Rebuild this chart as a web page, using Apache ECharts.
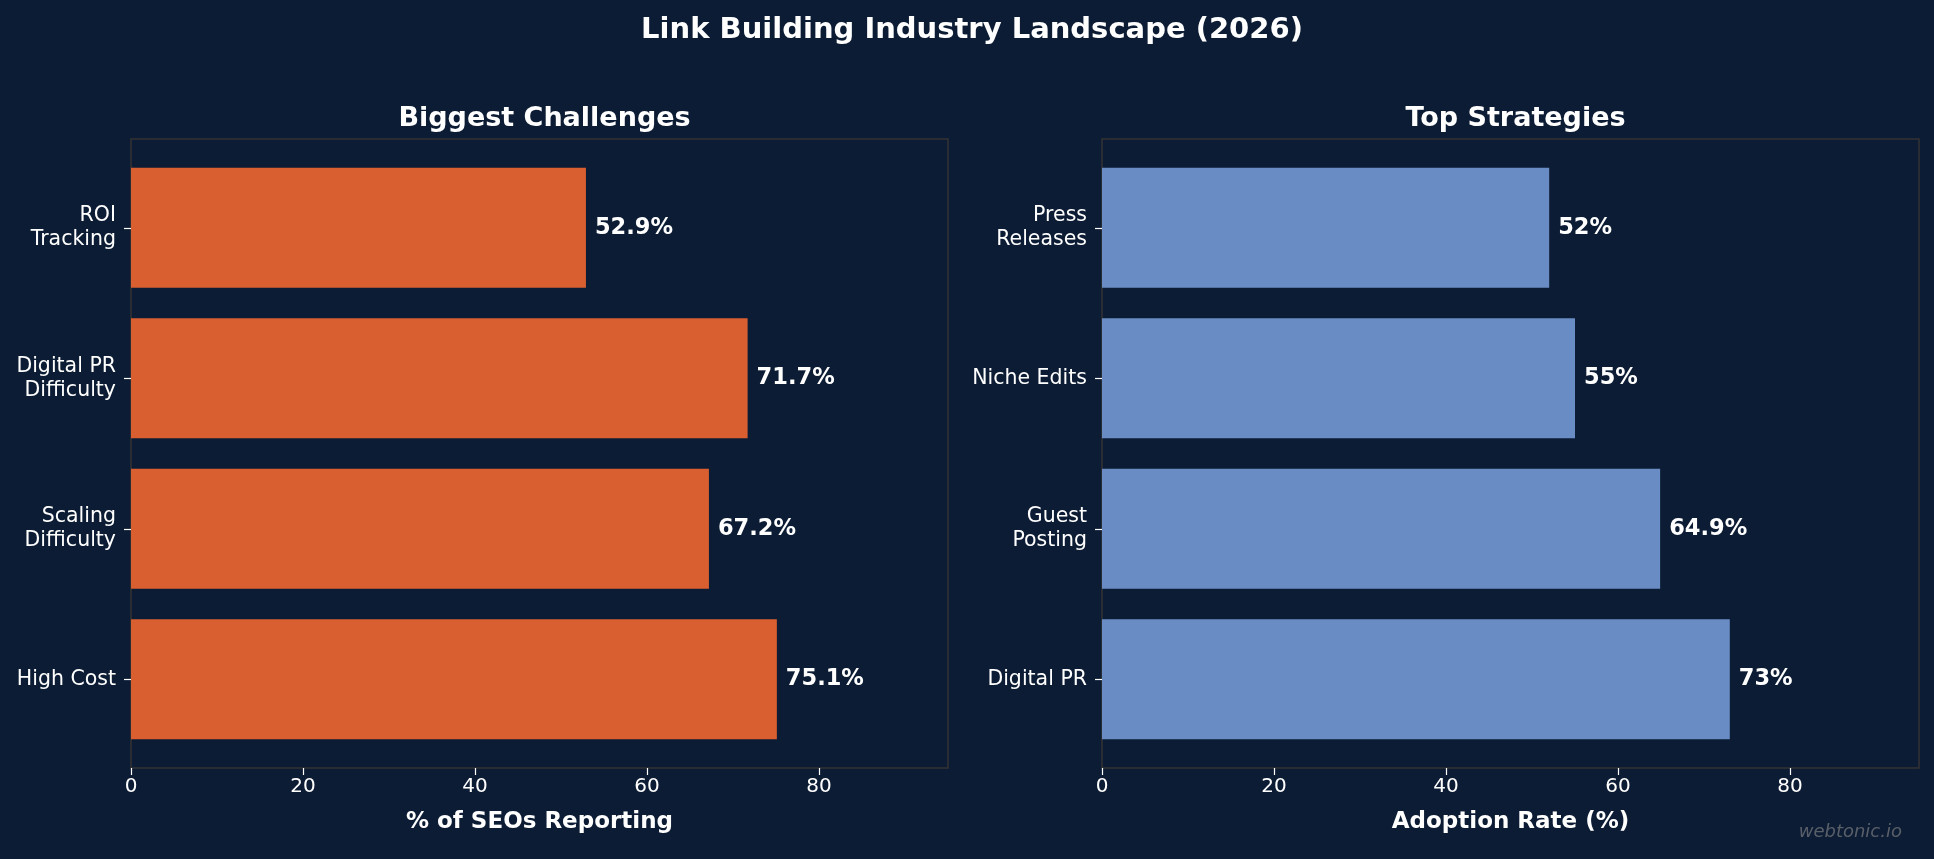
<!DOCTYPE html>
<html>
<head>
<meta charset="utf-8">
<script src="https://cdn.jsdelivr.net/npm/echarts@6/dist/echarts.min.js"></script>
<style>
  html, body { margin: 0; padding: 0; background: #0c1c34; }
  #chart { width: 1934px; height: 859px; }
</style>
</head>
<body>
<div id="chart"></div>
<script>
// data, bottom to top like the original barh
const challengeNames = ['High Cost', 'Scaling\nDifficulty', 'Digital PR\nDifficulty', 'ROI\nTracking']
const challengeValues = [75.1, 67.2, 71.7, 52.9]
const strategyNames = ['Digital PR', 'Guest\nPosting', 'Niche Edits', 'Press\nReleases']
const strategyValues = [73, 64.9, 55, 52]
const xMax = 95      // axis limit
const xTickMax = 80  // last labelled tick
const xStep = 20

const FONT = 'DejaVu Sans'
const BG = '#0c1c34'
const ORANGE = '#d95f30'
const BLUE = '#6a8cc4'

// panel boxes; each panel = border grid + tick grid + bar grid
const panels = [
  { left: 131, width: 817, top: 139, height: 629 },
  { left: 1102, width: 817, top: 139, height: 629 }
]
const pxPerUnit = panels[0].width / xMax

function borderGrid(p) {
  return { show: true, borderColor: '#333333', borderWidth: 1.5, backgroundColor: 'transparent',
    left: p.left, width: p.width, top: p.top, height: p.height }
}
function tickGrid(p) {
  return { left: p.left, width: xTickMax * pxPerUnit, top: p.top, height: p.height }
}
function barGrid(p) {
  return { left: p.left, width: p.width, top: 152.5, height: 602 }
}

function hiddenValue(gridIndex, max) {
  return { type: 'value', gridIndex: gridIndex, min: 0, max: max, show: false, splitLine: { show: false } }
}

function tickX(gridIndex) {
  return {
    type: 'value', gridIndex: gridIndex, min: 0, max: xTickMax, interval: xStep,
    axisLine: { show: false },
    axisTick: { show: true, length: 7, lineStyle: { color: '#fff', width: 1.2 } },
    axisLabel: { color: '#fff', fontFamily: FONT, fontSize: 20, margin: 9 },
    splitLine: { show: false }
  }
}

function nameX(gridIndex, name) {
  return {
    type: 'value', gridIndex: gridIndex, min: 0, max: xMax,
    name: name, nameLocation: 'middle', nameGap: 43,
    nameTextStyle: { color: '#fff', fontFamily: FONT, fontWeight: 'bold', fontSize: 23 },
    axisLine: { show: false }, axisTick: { show: false }, axisLabel: { show: false },
    splitLine: { show: false }
  }
}

function catY(gridIndex, names) {
  return {
    type: 'category', gridIndex: gridIndex, data: names,
    axisLine: { show: false },
    axisTick: { show: true, alignWithLabel: true, length: 7, lineStyle: { color: '#fff', width: 1.2 } },
    axisLabel: { color: '#fff', fontFamily: FONT, fontSize: 20.5, lineHeight: 24, margin: 15, align: 'right' }
  }
}

function barSeries(axisIndex, values, color) {
  return {
    type: 'bar', xAxisIndex: axisIndex, yAxisIndex: axisIndex,
    data: values, barWidth: 120,
    itemStyle: { color: color },
    label: {
      show: true, position: 'right', distance: 9, formatter: '{c}%',
      color: '#fff', fontFamily: FONT, fontWeight: 'bold', fontSize: 22.5
    }
  }
}

const option = {
  backgroundColor: BG,
  animation: false,
  title: [
    { text: 'Link Building Industry Landscape (2026)', left: 967, top: 11, textAlign: 'center',
      textStyle: { color: '#fff', fontFamily: FONT, fontWeight: 'bold', fontSize: 29 } },
    { text: 'Biggest Challenges', left: 539.5, top: 100.5, textAlign: 'center',
      textStyle: { color: '#fff', fontFamily: FONT, fontWeight: 'bold', fontSize: 27 } },
    { text: 'Top Strategies', left: 1510.5, top: 100.5, textAlign: 'center',
      textStyle: { color: '#fff', fontFamily: FONT, fontWeight: 'bold', fontSize: 27 } }
  ],
  grid: [
    borderGrid(panels[0]), tickGrid(panels[0]), barGrid(panels[0]),
    borderGrid(panels[1]), tickGrid(panels[1]), barGrid(panels[1])
  ],
  xAxis: [
    nameX(0, '% of SEOs Reporting'), tickX(1), hiddenValue(2, xMax),
    nameX(3, 'Adoption Rate (%)'), tickX(4), hiddenValue(5, xMax)
  ],
  yAxis: [
    hiddenValue(0, 1), hiddenValue(1, 1), catY(2, challengeNames),
    hiddenValue(3, 1), hiddenValue(4, 1), catY(5, strategyNames)
  ],
  series: [
    barSeries(2, challengeValues, ORANGE),
    barSeries(5, strategyValues, BLUE)
  ],
  graphic: [
    {
      type: 'text', right: 32, top: 823,
      style: { text: 'webtonic.io', fill: 'rgba(140,140,140,0.6)', font: 'italic 18px "DejaVu Sans"' }
    }
  ]
}

const myChart = echarts.init(document.getElementById('chart'))
myChart.setOption(option)
window.onresize = myChart.resize
</script>
</body>
</html>
